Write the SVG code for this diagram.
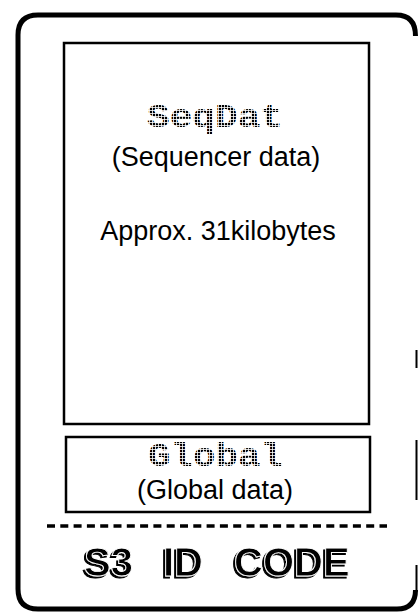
<svg xmlns="http://www.w3.org/2000/svg" width="418" height="612" viewBox="0 0 418 612">
<style>
.box{fill:none;stroke:#000;stroke-width:2.5}
.lbl{font-family:"Liberation Sans",Arial,sans-serif;font-size:27px;fill:#000;text-anchor:middle}
.dot{font-family:"Liberation Mono","Courier New",monospace;font-size:34px;font-weight:bold;fill:url(#dots);text-anchor:middle}
.code{font-family:"Liberation Sans",Arial,sans-serif;font-weight:bold;font-size:40px;fill:#000;stroke:#fff;stroke-width:0.9;filter:url(#sh)}
</style>
<defs>
<pattern id="dots" width="3" height="3" patternUnits="userSpaceOnUse">
<rect width="2.2" height="2.2" fill="#000"/>
</pattern>
<filter id="sh" x="-10%" y="-20%" width="120%" height="140%">
<feOffset in="SourceAlpha" dx="-2" dy="2" result="o"/>
<feMerge><feMergeNode in="o"/><feMergeNode in="SourceGraphic"/></feMerge>
</filter>
</defs>
<rect width="418" height="612" fill="#fff"/>
<g id="frame">
<path d="M415.5 36 Q415.5 15 396 15 L38 15 Q18 15 18 35 L18 589 Q18 609 38 609 L397 609 Q415.5 609 415.5 590" fill="none" stroke="#000" stroke-width="5"/>
<path d="M416.5 350 V368 M416.5 440 V500 M416.5 565 V592" fill="none" stroke="#000" stroke-width="2"/>
</g>
<g id="seqdat">
<rect class="box" x="64" y="43" width="305" height="381"/>
<text class="dot" x="215" y="127" textLength="136" lengthAdjust="spacingAndGlyphs">SeqDat</text>
<text class="lbl" x="216" y="166">(Sequencer data)</text>
<text class="lbl" x="218" y="240">Approx. 31kilobytes</text>
</g>
<g id="global">
<rect class="box" x="66" y="437" width="304" height="75"/>
<text class="dot" x="215.5" y="466" textLength="135" lengthAdjust="spacingAndGlyphs">Global</text>
<text class="lbl" x="215" y="499">(Global data)</text>
</g>
<g id="connectors">
<line x1="47" y1="526" x2="387" y2="526" stroke="#000" stroke-width="3.5" stroke-dasharray="8 5.3"/>
</g>
<g id="idcode">
<text class="code" y="576"><tspan x="84">S3</tspan><tspan x="163">ID</tspan><tspan x="234">CODE</tspan></text>
</g>
</svg>
